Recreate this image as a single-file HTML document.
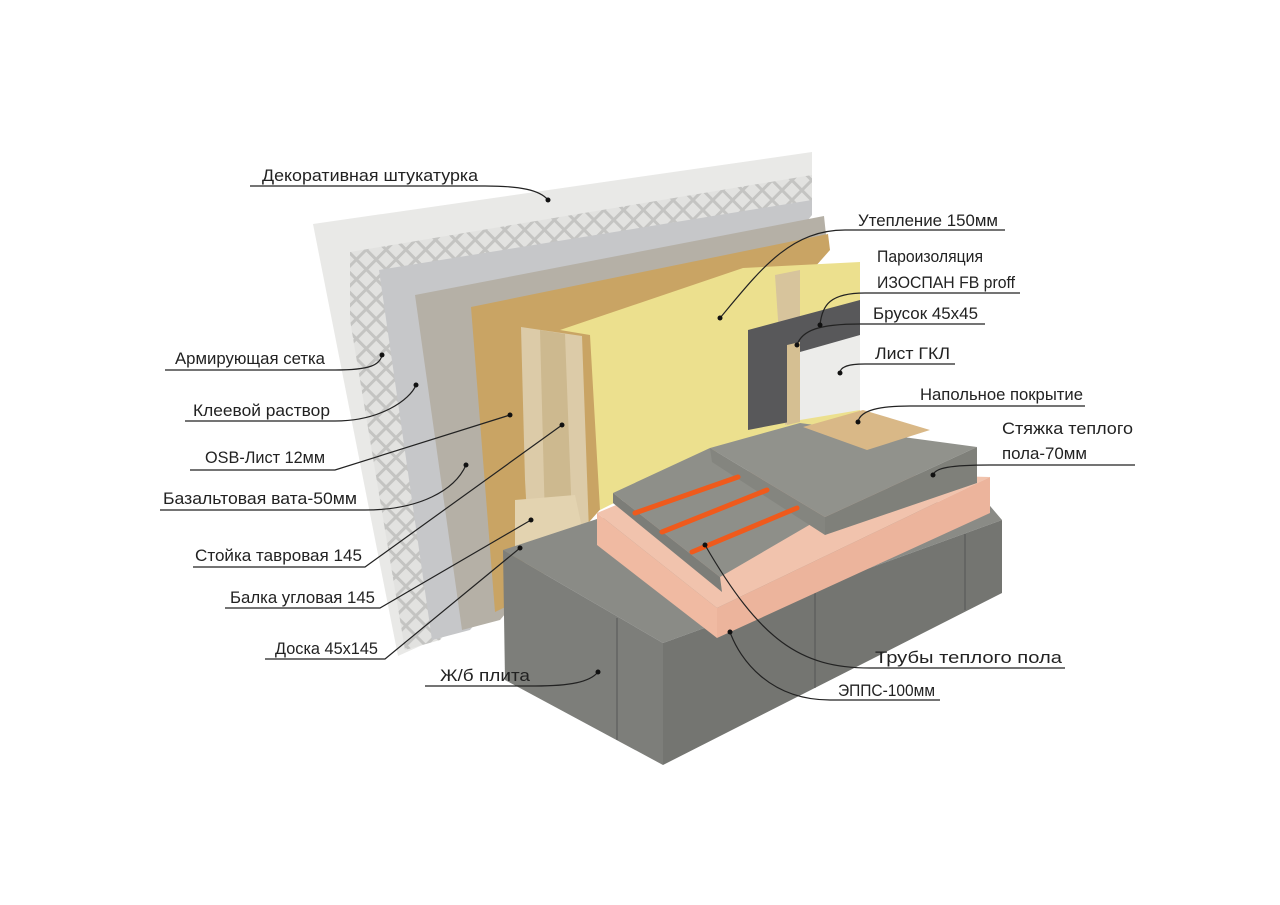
<!DOCTYPE html>
<html><head><meta charset="utf-8"><style>
html,body{margin:0;padding:0;background:#fff}
svg{display:block}
text{font-family:"Liberation Sans",sans-serif;font-size:17px;fill:#222}
</style></head><body>
<svg width="1280" height="905" viewBox="0 0 1280 905">
<defs>
<pattern id="mesh" width="14" height="14" patternUnits="userSpaceOnUse" patternTransform="rotate(45)">
<rect width="14" height="14" fill="#e2e2e0"/><rect width="3" height="14" fill="#c4c4c2"/><rect width="14" height="3" fill="#c4c4c2"/>
</pattern>
</defs>
<!-- plaster -->
<polygon points="313,224 812,152 812,215 500,610 398,656" fill="#e9e9e7"/>
<!-- mesh -->
<polygon points="350,252 812,175 812,205 440,640 405,650 350,320" fill="url(#mesh)"/>
<!-- adhesive -->
<polygon points="379,270 812,200 812,215 470,630 432,640" fill="#c6c7c9"/>
<!-- basalt -->
<polygon points="415,295 824,216 826,235 500,620 462,630" fill="#b5b0a6"/>
<!-- osb -->
<polygon points="471,307 828,234 830,250 520,600 495,612" fill="#c9a464"/>
<!-- yellow insulation -->
<polygon points="560,330 743,268 860,262 860,420 720,450 600,510 590,335" fill="#ece08e"/>
<!-- back stud -->
<polygon points="775,275 800,270 800,420 785,425" fill="#d7c49c"/>
<!-- vapor barrier -->
<polygon points="748,330 860,300 860,345 800,352 800,420 748,430" fill="#58585a"/>
<!-- GKL -->
<polygon points="800,352 860,335 860,410 800,420" fill="#ececea"/>
<!-- brusok -->
<polygon points="787,345 800,342 800,422 787,425" fill="#d5bf92"/>
<!-- front stud -->
<polygon points="521,327 582,336 590,560 530,570 525,480" fill="#dccba8"/>
<polygon points="540,330 565,334 572,520 545,522" fill="#cdb98f"/>
<polygon points="515,500 575,495 590,565 540,575 515,555" fill="#e3d3b0"/>
<!-- slab -->
<polygon points="503,550 600,518 985,500 1002,520 663,643" fill="#8a8b86"/>
<polygon points="503,550 663,643 663,765 505,680" fill="#7d7e7a"/>
<polygon points="663,643 1002,520 1002,593 663,765" fill="#747571"/>
<line x1="617" y1="618" x2="617" y2="740" stroke="#555" stroke-width="1"/>
<line x1="815" y1="588" x2="815" y2="688" stroke="#555" stroke-width="1"/>
<line x1="965" y1="534" x2="965" y2="610" stroke="#555" stroke-width="1"/>
<!-- EPS -->
<polygon points="597,513 700,470 990,477 717,608" fill="#f1c3ad"/>
<polygon points="597,513 717,608 717,638 597,545" fill="#f0baa2"/>
<polygon points="717,608 990,477 990,513 717,638" fill="#ecb49c"/>
<!-- lower screed -->
<polygon points="613,493 710,448 823,517 720,577" fill="#8e8f89"/>
<polygon points="613,493 720,577 722,592 613,503" fill="#7c7d78"/>
<!-- upper screed -->
<polygon points="710,448 800,423 977,447 825,517" fill="#91928c"/>
<polygon points="825,517 977,447 977,483 825,535" fill="#7f807a"/>
<polygon points="710,448 825,517 825,535 712,462" fill="#84857f"/>
<!-- floor covering -->
<polygon points="803,427 863,410 930,430 867,450" fill="#d9b887"/>
<!-- pipes -->
<g stroke="#ef5a1c" stroke-width="5" stroke-linecap="round">
<line x1="635" y1="513" x2="738" y2="477"/>
<line x1="662" y1="532" x2="767" y2="490"/>
<line x1="692" y1="552" x2="797" y2="508"/>
</g>
<!-- leaders -->
<g fill="none" stroke="#222" stroke-width="1.2">
<path d="M250,186 H485 C520,186 540,190 548,200"/>
<path d="M165,370 H335 C370,370 380,365 382,355"/>
<path d="M185,421 H335 C380,421 410,400 416,385"/>
<path d="M190,470 H335 L510,415"/>
<path d="M160,510 H365 C420,510 455,490 466,465"/>
<path d="M193,567 H365 L562,425"/>
<path d="M225,608 H380 L531,520"/>
<path d="M265,659 H385 L520,548"/>
<path d="M425,686 H535 C570,686 590,682 598,672"/>
<path d="M1005,230 H845 C790,230 760,270 720,318"/>
<path d="M1020,293 H865 C830,293 822,305 820,325"/>
<path d="M985,324 H860 C820,324 802,330 797,345"/>
<path d="M955,364 H865 C845,364 840,368 840,373"/>
<path d="M1085,406 H910 C880,406 860,410 858,422"/>
<path d="M1135,465 H990 C950,465 935,468 933,475"/>
<path d="M1065,668 H870 C800,668 760,640 705,545"/>
<path d="M940,700 H830 C770,700 740,660 730,632"/>
</g>
<g fill="#111">
<circle cx="548" cy="200" r="2.5"/><circle cx="382" cy="355" r="2.5"/><circle cx="416" cy="385" r="2.5"/>
<circle cx="510" cy="415" r="2.5"/><circle cx="466" cy="465" r="2.5"/><circle cx="562" cy="425" r="2.5"/>
<circle cx="531" cy="520" r="2.5"/><circle cx="520" cy="548" r="2.5"/><circle cx="598" cy="672" r="2.5"/>
<circle cx="720" cy="318" r="2.5"/><circle cx="820" cy="325" r="2.5"/><circle cx="797" cy="345" r="2.5"/>
<circle cx="840" cy="373" r="2.5"/><circle cx="858" cy="422" r="2.5"/><circle cx="933" cy="475" r="2.5"/>
<circle cx="705" cy="545" r="2.5"/><circle cx="730" cy="632" r="2.5"/>
</g>
<!-- labels -->
<text x="262" y="181" textLength="216" lengthAdjust="spacingAndGlyphs">Декоративная штукатурка</text>
<text x="175" y="364" textLength="150" lengthAdjust="spacingAndGlyphs">Армирующая сетка</text>
<text x="193" y="416" textLength="137" lengthAdjust="spacingAndGlyphs">Клеевой раствор</text>
<text x="205" y="463" textLength="120" lengthAdjust="spacingAndGlyphs">OSB-Лист 12мм</text>
<text x="163" y="504" textLength="194" lengthAdjust="spacingAndGlyphs">Базальтовая вата-50мм</text>
<text x="195" y="561" textLength="167" lengthAdjust="spacingAndGlyphs">Стойка тавровая 145</text>
<text x="230" y="603" textLength="145" lengthAdjust="spacingAndGlyphs">Балка угловая 145</text>
<text x="275" y="654" textLength="103" lengthAdjust="spacingAndGlyphs">Доска 45х145</text>
<text x="440" y="681" textLength="90" lengthAdjust="spacingAndGlyphs">Ж/б плита</text>
<text x="858" y="226" textLength="140" lengthAdjust="spacingAndGlyphs">Утепление 150мм</text>
<text x="877" y="262" textLength="106" lengthAdjust="spacingAndGlyphs">Пароизоляция</text>
<text x="877" y="288" textLength="138" lengthAdjust="spacingAndGlyphs">ИЗОСПАН FB proff</text>
<text x="873" y="319" textLength="105" lengthAdjust="spacingAndGlyphs">Брусок 45х45</text>
<text x="875" y="359" textLength="75" lengthAdjust="spacingAndGlyphs">Лист ГКЛ</text>
<text x="920" y="400" textLength="163" lengthAdjust="spacingAndGlyphs">Напольное покрытие</text>
<text x="1002" y="434" textLength="131" lengthAdjust="spacingAndGlyphs">Стяжка теплого</text>
<text x="1002" y="459" textLength="85" lengthAdjust="spacingAndGlyphs">пола-70мм</text>
<text x="875" y="663" textLength="187" lengthAdjust="spacingAndGlyphs">Трубы теплого пола</text>
<text x="838" y="696" textLength="97" lengthAdjust="spacingAndGlyphs">ЭППС-100мм</text>
</svg>
</body></html>
